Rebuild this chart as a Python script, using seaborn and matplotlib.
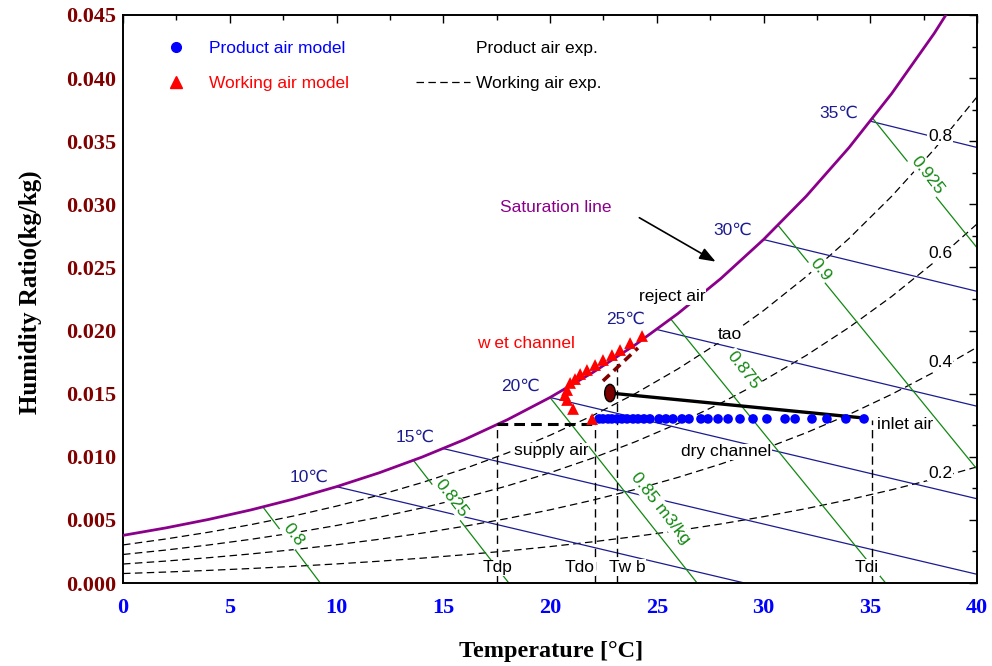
import numpy as np
import pandas as pd
import matplotlib
matplotlib.use("Agg")
import matplotlib.pyplot as plt
import seaborn as sns
from matplotlib.lines import Line2D
from matplotlib.patches import Ellipse
from matplotlib.ticker import MultipleLocator, FormatStrFormatter

# ---------------- data ----------------
T_GRID = [0, 2, 4, 6, 8, 10, 12, 14, 16, 18, 20, 22, 24, 26, 28, 30, 32, 34, 36, 38, 40]
W_SAT = [0.003775, 0.004364, 0.005034, 0.005795, 0.006657, 0.007632, 0.008732, 0.009973,
         0.011367, 0.012934, 0.014699, 0.016673, 0.018881, 0.021358, 0.024119, 0.027210,
         0.030643, 0.034485, 0.038770, 0.043556, 0.048898]
W_RH20 = [0.000751, 0.000868, 0.001000, 0.001150, 0.001320, 0.001512, 0.001727, 0.001969,
          0.002241, 0.002544, 0.002885, 0.003265, 0.003687, 0.004157, 0.004679, 0.005258,
          0.005896, 0.006604, 0.007386, 0.008249, 0.009201]
W_RH40 = [0.001505, 0.001738, 0.002004, 0.002305, 0.002646, 0.003031, 0.003464, 0.003951,
          0.004498, 0.005110, 0.005797, 0.006564, 0.007417, 0.008371, 0.009428, 0.010605,
          0.011905, 0.013350, 0.014949, 0.016720, 0.018678]
W_RH60 = [0.002260, 0.002611, 0.003011, 0.003464, 0.003977, 0.004557, 0.005210, 0.005945,
          0.006771, 0.007696, 0.008737, 0.009898, 0.011193, 0.012641, 0.014250, 0.016045,
          0.018030, 0.020242, 0.022696, 0.025422, 0.028445]
W_RH80 = [0.003017, 0.003487, 0.004021, 0.004627, 0.005314, 0.006091, 0.006966, 0.007952,
          0.009061, 0.010304, 0.011704, 0.013267, 0.015014, 0.016970, 0.019147, 0.021579,
          0.024275, 0.027286, 0.030634, 0.034364, 0.038513]
RH_LEVELS = ["0.2", "0.4", "0.6", "0.8"]

# constant-enthalpy (wet bulb) lines: start on saturation, end at w=0 or T=40
ENTH_LABELS = ["10\u2103", "15\u2103", "20\u2103", "25\u2103", "30\u2103", "35\u2103"]
ENTH_T0 = [10, 15, 20, 25, 30, 35]
ENTH_W0 = [0.007632, 0.010650, 0.014699, 0.020084, 0.027210, 0.036588]
ENTH_T1 = [29.11, 40, 40, 40, 40, 40]
ENTH_W1 = [0.0, 0.00069, 0.006675, 0.014006, 0.023107, 0.034504]

# specific volume lines
VOL_LABELS = ["0.8", "0.825", "0.85 m3/kg", "0.875", "0.9", "0.925"]
VOL_T0 = [6.55, 13.6, 20.0, 25.65, 30.67, 35.1]
VOL_W0 = [0.006032, 0.009725, 0.014699, 0.020925, 0.028360, 0.036842]
VOL_T1 = [9.24, 18.07, 26.89, 35.72, 40, 40]
VOL_W1 = [0.0, 0.0, 0.0, 0.0, 0.00902, 0.02656]

# model results
PROD_T = [22.30, 22.48, 22.72, 22.90, 23.14, 23.37, 23.61, 23.89, 24.12, 24.40, 24.68,
          25.11, 25.43, 25.76, 26.18, 26.51, 27.07, 27.40, 27.87, 28.34, 28.90, 29.51,
          30.16, 31.01, 31.48, 32.27, 32.97, 33.86, 34.71]
PROD_W = [0.0130] * 29
WORK_T = [21.97, 21.08, 20.80, 20.70, 20.80, 20.94, 21.17, 21.41, 21.73, 22.11, 22.48,
          22.90, 23.28, 23.75, 24.31]
WORK_W = [0.01299, 0.01379, 0.01450, 0.01489, 0.01529, 0.01585, 0.01616, 0.01656,
          0.01688, 0.01727, 0.01767, 0.01806, 0.01846, 0.01901, 0.01957]

# experiment / state points
TAO_T, TAO_W = 22.81, 0.01505
INLET_T, INLET_W = 34.71, 0.01307
REJECT_T = [22.48, 24.12]
REJECT_W = [0.01601, 0.01862]
T_DP, T_DO, T_WB, T_DI = 17.52, 22.11, 23.15, 35.08
W_SUPPLY = 0.0126
W_WB_TOP = 0.0176
W_DI_TOP = 0.0129

# ---------------- style ----------------
sns.set_theme(style="white")
plt.rcParams["font.family"] = ["Liberation Sans", "DejaVu Sans"]
plt.rcParams["axes.linewidth"] = 1.4

fig = plt.figure(figsize=(9.92, 6.66), dpi=100)
ax = fig.add_axes([0.1240, 0.1246, 0.8609, 0.8529])
ax.set_facecolor("white")

NAVY = "#1c1c90"
GREEN = "#118811"
DARKRED = "#800000"
PURPLE = "#8b008b"
WBOX = dict(facecolor="white", edgecolor="none", pad=0.6)

# relative humidity curves
rh_df = pd.DataFrame({
    "T": T_GRID * 4,
    "w": W_RH20 + W_RH40 + W_RH60 + W_RH80,
    "rh": np.repeat(RH_LEVELS, len(T_GRID)),
})
sns.lineplot(data=rh_df, x="T", y="w", units="rh", estimator=None, color="black",
             lw=0.9, linestyle=(0, (6, 3.5)), ax=ax, legend=False, zorder=1.4)

# enthalpy and volume lines
for t0, w0, t1, w1 in zip(ENTH_T0, ENTH_W0, ENTH_T1, ENTH_W1):
    ax.plot([t0, t1], [w0, w1], color=NAVY, lw=0.9, zorder=1.5)
for t0, w0, t1, w1 in zip(VOL_T0, VOL_W0, VOL_T1, VOL_W1):
    ax.plot([t0, t1], [w0, w1], color=GREEN, lw=0.9, zorder=1.5)

# saturation line
sns.lineplot(x=T_GRID, y=W_SAT, color=PURPLE, lw=2.0, ax=ax, zorder=3)

# labels of the chart lines
enth_pos = [(8.71, 0.0084), (13.68, 0.01157), (18.64, 0.01561), (23.56, 0.02092),
            (28.57, 0.02797), (33.54, 0.03724)]
for lab, (x, y) in zip(ENTH_LABELS, enth_pos):
    ax.text(x, y, lab, color=NAVY, fontsize=12.5, ha="center", va="center", zorder=2.5)

vol_pos = [(7.96, 0.0038), (15.4, 0.00673), (25.15, 0.00594), (29.04, 0.01688),
           (32.65, 0.0248), (37.66, 0.03232)]
for lab, (x, y) in zip(VOL_LABELS, vol_pos):
    ax.text(x, y, lab, color=GREEN, fontsize=12.5, ha="center", va="center",
            rotation=-52, rotation_mode="anchor", bbox=WBOX, zorder=2.5)

rh_pos = [0.00871, 0.01743, 0.02614, 0.03534]
for lab, y in zip(RH_LEVELS, rh_pos):
    ax.text(38.27, y, lab, color="black", fontsize=12.5, ha="center", va="center",
            bbox=WBOX, zorder=2.5)

# supply air box and state verticals
ax.plot([T_DP, T_DO], [W_SUPPLY, W_SUPPLY], color="black", lw=2.2,
        linestyle=(0, (3.5, 2)), zorder=4)
for tx, top in [(T_DP, W_SUPPLY), (T_DO, W_SUPPLY), (T_WB, W_WB_TOP), (T_DI, W_DI_TOP)]:
    ax.plot([tx, tx], [0, top], color="black", lw=1.0, linestyle=(0, (6, 3.5)), zorder=2)

# experiments
ax.plot(REJECT_T, REJECT_W, color=DARKRED, lw=2.6, linestyle=(0, (2.5, 1.6)), zorder=4)
ax.plot([TAO_T, INLET_T], [TAO_W, INLET_W], color="black", lw=2.4, zorder=4)
ax.add_patch(Ellipse((TAO_T, TAO_W), width=0.5, height=0.00138, facecolor="#7a0000",
                     edgecolor="black", lw=1.0, zorder=6))

# models
sns.scatterplot(x=PROD_T, y=PROD_W, color="blue", marker="o", s=48, edgecolor="none",
                ax=ax, zorder=5)
sns.scatterplot(x=WORK_T, y=WORK_W, color="red", marker="^", s=72, edgecolor="none",
                ax=ax, zorder=5)

# annotations
ann = [
    ("supply air", 20.05, 0.01046, "black"),
    ("dry channel", 28.24, 0.01038, "black"),
    ("inlet air", 36.63, 0.01252, "black"),
    ("tao", 28.43, 0.01965, "black"),
    ("reject air", 25.71, 0.02266, "black"),
    ("w et channel", 18.88, 0.01901, "red"),
    ("Saturation line", 20.28, 0.02971, PURPLE),
    ("Tdp", 17.52, 0.00119, "black"),
    ("Tdo", 21.41, 0.00125, "black"),
    ("Tw b", 23.6, 0.00125, "black"),
    ("Tdi", 34.85, 0.00125, "black"),
]
for txt, x, y, c in ann:
    ax.text(x, y, txt, color=c, fontsize=12.5, ha="center", va="center",
            bbox=WBOX, zorder=4.5)
ax.annotate("", xy=(27.87, 0.02535), xytext=(24.07, 0.02905),
            arrowprops=dict(arrowstyle="-|>,head_length=0.8,head_width=0.3",
                            color="black", lw=1.2), zorder=4)

# legend
handles = [
    Line2D([], [], linestyle="none", marker="o", color="blue", markersize=7),
    Line2D([], [], linestyle="none", marker="^", color="red", markersize=8),
    Line2D([], [], linestyle="none", color="none"),
    Line2D([], [], color="black", lw=0.9, linestyle=(0, (6, 3.5))),
]
labels = ["Product air model", "Working air model", "Product air exp.", "Working air exp."]
leg = ax.legend(handles, labels, ncol=2, frameon=False, loc="upper left",
                bbox_to_anchor=(0.0304, 0.954), borderaxespad=0, borderpad=0,
                fontsize=12.5, handlelength=3.1, handletextpad=0.35,
                columnspacing=3.85, labelspacing=1.15)
for t, c in zip(leg.get_texts(), ["blue", "red", "black", "black"]):
    t.set_color(c)

# axes
ax.set_xlim(0, 40)
ax.set_ylim(0, 0.045)
ax.xaxis.set_major_locator(MultipleLocator(5))
ax.xaxis.set_minor_locator(MultipleLocator(2.5))
ax.yaxis.set_major_locator(MultipleLocator(0.005))
ax.yaxis.set_minor_locator(MultipleLocator(0.0025))
ax.xaxis.set_major_formatter(FormatStrFormatter("%d"))
ax.yaxis.set_major_formatter(FormatStrFormatter("%.3f"))
ax.tick_params(which="both", direction="in", top=True, right=True, color="black")
ax.tick_params(which="major", length=6, width=1)
ax.tick_params(which="minor", length=3.5, width=1)
ax.tick_params(axis="x", pad=11)
ax.tick_params(axis="y", pad=5)
for spine in ax.spines.values():
    spine.set_color("black")
    spine.set_linewidth(1.4)
for lbl in ax.get_xticklabels():
    lbl.set_fontfamily("Liberation Serif")
    lbl.set_fontweight("bold")
    lbl.set_fontsize(16)
    lbl.set_color("blue")
for lbl in ax.get_yticklabels():
    lbl.set_fontfamily("Liberation Serif")
    lbl.set_fontweight("bold")
    lbl.set_fontsize(16)
    lbl.set_color(DARKRED)
ax.set_xlabel("")
ax.set_ylabel("")
fig.text(551 / 992, 1 - 652 / 666, "Temperature [\u00b0C]", fontfamily="Liberation Serif",
         fontweight="bold", fontsize=17.5, ha="center", va="center", color="black")
fig.text(30 / 992, 1 - 292 / 666, "Humidity Ratio(kg/kg)", fontfamily="Liberation Serif",
         fontweight="bold", fontsize=18, ha="center", va="center", rotation=90,
         color="black")

fig.savefig("out.png", dpi=100, facecolor="white")
